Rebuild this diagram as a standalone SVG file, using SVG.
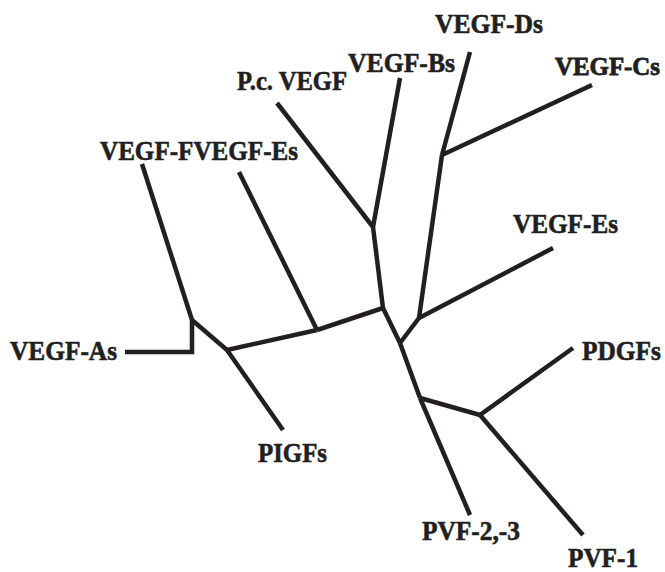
<svg xmlns="http://www.w3.org/2000/svg" width="665" height="572" viewBox="0 0 665 572">
<style>
.e{fill:none;stroke:#231f20;stroke-width:4.5;stroke-linecap:butt;stroke-linejoin:miter}
.t{font-family:"Liberation Serif","Times New Roman",serif;font-weight:bold;font-size:27px;fill:#231f20;stroke:#231f20;stroke-width:0.6}
</style>
<rect width="665" height="572" fill="#fff"/>
<g id="connectors">
<line class="e" x1="277" y1="103" x2="373" y2="227"/>
<line class="e" x1="400" y1="78" x2="373" y2="227"/>
<line class="e" x1="373" y1="227" x2="383" y2="308"/>
<line class="e" x1="470" y1="52" x2="442" y2="155"/>
<line class="e" x1="442" y1="155" x2="592" y2="85"/>
<line class="e" x1="442" y1="155" x2="419" y2="318"/>
<line class="e" x1="419" y1="318" x2="553" y2="248"/>
<line class="e" x1="419" y1="318" x2="400" y2="343"/>
<line class="e" x1="383" y1="308" x2="400" y2="343"/>
<line class="e" x1="400" y1="343" x2="420" y2="398"/>
<line class="e" x1="420" y1="398" x2="470" y2="515"/>
<line class="e" x1="420" y1="398" x2="480" y2="415"/>
<line class="e" x1="480" y1="415" x2="573" y2="348"/>
<line class="e" x1="480" y1="415" x2="583" y2="535"/>
<line class="e" x1="383" y1="308" x2="317" y2="330"/>
<line class="e" x1="317" y1="330" x2="239" y2="172"/>
<line class="e" x1="317" y1="330" x2="227" y2="350"/>
<line class="e" x1="227" y1="350" x2="283" y2="430"/>
<line class="e" x1="227" y1="350" x2="192" y2="320"/>
<line class="e" x1="192" y1="320" x2="142" y2="164"/>
<polyline class="e" points="192,320 192,352 125,352"/>
</g>
<g id="n-vegf-ds"><text class="t" x="435" y="33" textLength="108" lengthAdjust="spacingAndGlyphs">VEGF-Ds</text></g>
<g id="n-vegf-bs"><text class="t" x="348" y="72" textLength="107" lengthAdjust="spacingAndGlyphs">VEGF-Bs</text></g>
<g id="n-pc-vegf"><text class="t" x="237" y="90" textLength="110" lengthAdjust="spacingAndGlyphs">P.c. VEGF</text></g>
<g id="n-vegf-cs"><text class="t" x="555" y="75" style="font-size:24.5px;stroke-width:0.8px" textLength="105" lengthAdjust="spacingAndGlyphs">VEGF-Cs</text></g>
<g id="n-vegf-es-right"><text class="t" x="513" y="233" textLength="105" lengthAdjust="spacingAndGlyphs">VEGF-Es</text></g>
<g id="n-vegf-f-es"><text class="t" x="100" y="160" textLength="198" lengthAdjust="spacingAndGlyphs">VEGF-FVEGF-Es</text></g>
<g id="n-vegf-as"><text class="t" x="10" y="360" textLength="107" lengthAdjust="spacingAndGlyphs">VEGF-As</text></g>
<g id="n-pigfs"><text class="t" x="258" y="462" textLength="69" lengthAdjust="spacingAndGlyphs">PIGFs</text></g>
<g id="n-pdgfs"><text class="t" x="582" y="360" textLength="79" lengthAdjust="spacingAndGlyphs">PDGFs</text></g>
<g id="n-pvf-23"><text class="t" x="422" y="540" textLength="98" lengthAdjust="spacingAndGlyphs">PVF-2,-3</text></g>
<g id="n-pvf-1"><text class="t" x="568" y="567" textLength="70" lengthAdjust="spacingAndGlyphs">PVF-1</text></g>
</svg>
